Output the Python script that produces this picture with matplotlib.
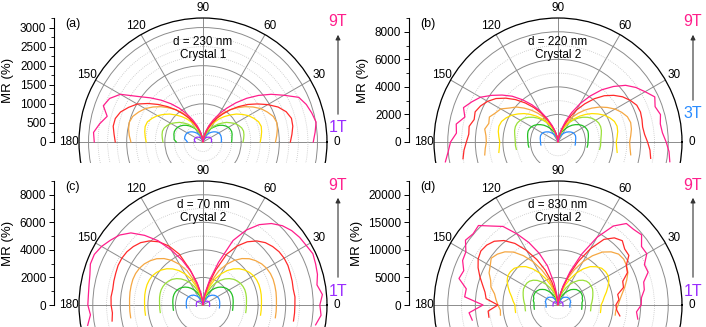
import numpy as np
import matplotlib
matplotlib.use('Agg')
import matplotlib.pyplot as plt
from matplotlib.patches import Rectangle, FancyArrowPatch
from matplotlib.ticker import MultipleLocator

plt.rcParams['font.family'] = ['Liberation Sans', 'DejaVu Sans']

# field colours, low -> high field
c_purple = '#9a2cff'
c_blue = '#2a8cff'
c_green = '#22c022'
c_lgreen = '#9be03a'
c_yellow = '#ffe000'
c_orange = '#f5a742'
c_red = '#ff2a2a'
c_mag = '#ff1e8c'

# angles (deg)
theta_a = np.arange(0, 181, 5)
theta_bcd = np.arange(-10, 191, 5)

# ---- (a) d = 230 nm, crystal 1 : MR (%) vs angle, 0..180
a_purple = [220, 222, 227, 231, 233, 231, 224, 213, 198, 180, 160, 139, 117, 95, 73, 51, 31, 13, 0,
            13, 31, 51, 73, 95, 117, 139, 160, 180, 198, 213, 224, 231, 233, 231, 227, 222, 200]
a_blue = [480, 485, 490, 495, 495, 490, 475, 450, 415, 375, 330, 285, 240, 195, 150, 105, 65, 25, 0,
          25, 65, 105, 150, 195, 240, 285, 330, 375, 415, 450, 475, 490, 495, 495, 490, 440, 410]
a_green = [750, 760, 770, 790, 800, 790, 770, 730, 680, 620, 550, 470, 400, 320, 250, 170, 105, 45, 0,
           45, 105, 170, 250, 320, 400, 470, 550, 620, 680, 730, 770, 790, 800, 790, 770, 760, 700]
a_lgreen = [1050, 1070, 1090, 1100, 1080, 1030, 970, 880, 800, 700, 610, 510, 420, 330, 240, 160, 85, 30, 0,
            30, 85, 160, 240, 330, 420, 510, 610, 700, 800, 880, 970, 1030, 1080, 1100, 1090, 1070, 1050]
a_yellow = [1500, 1530, 1560, 1580, 1550, 1470, 1380, 1260, 1140, 1000, 870, 740, 600, 470, 350, 230, 120, 45, 0,
            45, 120, 230, 350, 470, 600, 740, 870, 1000, 1140, 1260, 1380, 1470, 1550, 1570, 1550, 1520, 1490]
a_orange = [1900, 1940, 1980, 2000, 1960, 1860, 1750, 1600, 1440, 1270, 1100, 930, 760, 590, 440, 290, 150, 60, 0,
            60, 150, 290, 440, 590, 760, 930, 1100, 1270, 1440, 1600, 1750, 1860, 1960, 2000, 1980, 1940, 1890]
a_red = [2290, 2340, 2390, 2400, 2320, 2170, 1960, 1740, 1530, 1310, 1100, 890, 710, 530, 370, 230, 115, 45, 0,
         45, 115, 230, 370, 530, 710, 890, 1100, 1310, 1530, 1760, 1990, 2150, 2300, 2380, 2390, 2340, 2300]
a_mag = [2890, 2950, 3010, 2950, 2880, 2770, 2450, 2180, 1900, 1620, 1340, 1080, 850, 640, 450, 290, 150, 50, 0,
         50, 150, 290, 450, 640, 850, 1080, 1310, 1550, 1800, 2080, 2500, 2700, 2780, 2600, 2750, 2880, 2850]

# ---- (b) d = 220 nm, crystal 2 : -10..190
b_blue = [1260, 1270, 1270, 1280, 1310, 1330, 1350, 1330, 1300, 1230, 1140, 1040, 930, 800, 670, 550, 420, 290, 180, 80, 0,
          80, 180, 290, 420, 550, 670, 800, 930, 1040, 1140, 1230, 1300, 1330, 1350, 1330, 1310, 1280, 1270, 1270, 1260]
b_green = [2150, 2175, 2175, 2200, 2240, 2280, 2310, 2280, 2220, 2110, 1960, 1780, 1590, 1370, 1150, 940, 720, 500, 300, 130, 0,
           130, 300, 500, 720, 940, 1150, 1370, 1590, 1780, 1960, 2110, 2220, 2280, 2310, 2280, 2240, 2200, 2175, 2175, 2150]
b_lgreen = [3070, 3100, 3100, 3130, 3190, 3260, 3290, 3260, 3160, 3010, 2790, 2540, 2260, 1950, 1640, 1330, 1020, 710, 430, 190, 0,
            190, 430, 710, 1020, 1330, 1640, 1950, 2260, 2540, 2790, 3010, 3160, 3260, 3290, 3260, 3190, 3130, 3100, 3100, 3070]
b_yellow = [4360, 4270, 4230, 4310, 4400, 4440, 4360, 4150, 3890, 3550, 3210, 2830, 2450, 2070, 1690, 1310, 970, 630, 340, 130, 0,
            130, 340, 630, 970, 1310, 1690, 2070, 2450, 2830, 3210, 3550, 3890, 4150, 4360, 4440, 4400, 4310, 4230, 4270, 4360]
b_orange = [5360, 5250, 5200, 5300, 5410, 5460, 5360, 5100, 4780, 4370, 3950, 3480, 3020, 2550, 2080, 1610, 1200, 780, 420, 160, 0,
            160, 420, 780, 1200, 1610, 2080, 2550, 3020, 3480, 3950, 4300, 4800, 5000, 5300, 5200, 5400, 5250, 5200, 5300, 5400]
b_red = [6830, 6700, 6500, 6310, 6240, 6310, 6370, 6310, 6050, 5720, 5270, 4750, 4100, 3380, 2670, 1950, 1300, 780, 390, 130, 0,
         130, 380, 750, 1200, 1750, 2400, 3050, 3700, 4350, 4950, 5500, 5900, 6200, 6400, 6300, 6550, 6500, 6650, 6850, 7000]
b_mag = [8240, 8090, 7850, 7610, 7540, 7700, 7500, 7750, 7300, 6900, 6400, 5700, 4950, 4080, 3220, 2360, 1570, 940, 470, 160, 0,
         130, 400, 800, 1300, 1900, 2600, 3300, 4000, 4700, 5300, 5900, 6500, 6900, 7300, 7000, 7500, 7400, 7800, 8000, 8300]

# ---- (c) d = 70 nm, crystal 2
c_purple_mr = [480, 480, 480, 485, 490, 495, 495, 490, 475, 455, 430, 395, 355, 310, 260, 205, 150, 100, 55, 20, 0,
               20, 55, 100, 150, 205, 260, 310, 355, 395, 430, 455, 475, 490, 495, 495, 490, 485, 480, 480, 480]
c_blue_mr = [1210, 1210, 1210, 1220, 1230, 1240, 1240, 1230, 1200, 1150, 1090, 1010, 910, 800, 670, 540, 390, 250, 130, 50, 0,
             50, 130, 250, 390, 540, 670, 800, 910, 1010, 1090, 1150, 1200, 1230, 1240, 1240, 1230, 1220, 1210, 1210, 1210]
c_green_mr = [2180, 2180, 2180, 2200, 2220, 2240, 2240, 2220, 2170, 2090, 1980, 1840, 1670, 1470, 1240, 990, 720, 450, 230, 80, 0,
              80, 230, 450, 720, 990, 1240, 1470, 1670, 1840, 1980, 2090, 2170, 2220, 2240, 2240, 2220, 2200, 2180, 2180, 2180]
c_lgreen_mr = [3150, 3150, 3150, 3170, 3200, 3220, 3230, 3200, 3140, 3040, 2900, 2710, 2470, 2180, 1850, 1480, 1050, 650, 330, 120, 0,
               120, 330, 650, 1050, 1480, 1850, 2180, 2470, 2710, 2900, 3040, 3140, 3200, 3230, 3220, 3200, 3170, 3150, 3150, 3150]
c_yellow_mr = [4240, 4240, 4240, 4260, 4290, 4310, 4320, 4300, 4240, 4120, 3950, 3720, 3420, 3050, 2600, 2100, 1450, 850, 420, 150, 0,
               150, 420, 850, 1450, 2100, 2600, 3050, 3420, 3720, 3950, 4120, 4240, 4300, 4320, 4310, 4290, 4260, 4240, 4240, 4240]
c_orange_mr = [5330, 5330, 5330, 5350, 5380, 5400, 5420, 5400, 5330, 5200, 5000, 4750, 4400, 3950, 3400, 2750, 1900, 1100, 550, 200, 0,
               200, 550, 1100, 1900, 2750, 3400, 3950, 4400, 4750, 5000, 5200, 5330, 5400, 5420, 5400, 5380, 5350, 5330, 5330, 5330]
c_red_mr = [6670, 6670, 6670, 6700, 6650, 6700, 6740, 6800, 6800, 6740, 6600, 6400, 6070, 5600, 4940, 4070, 2700, 1550, 750, 270, 0,
            270, 750, 1550, 2700, 4070, 4940, 5600, 6070, 6400, 6600, 6740, 6800, 6800, 6740, 6700, 6650, 6700, 6670, 6600, 6700]
c_mag_mr = [8300, 8600, 8480, 8700, 8400, 8600, 8700, 8800, 8650, 8560, 8400, 8140, 7720, 7120, 6280, 5170, 3300, 1900, 900, 300, 0,
            300, 900, 1700, 2600, 3600, 4600, 5700, 6600, 7400, 7900, 8200, 8500, 8700, 8700, 8500, 8400, 8350, 8360, 8200, 8500]

# ---- (d) d = 830 nm, crystal 2
d_purple = [910, 910, 910, 910, 910, 910, 910, 910, 910, 910, 870, 820, 730, 640, 550, 440, 310, 180, 90, 40, 0,
            40, 90, 180, 310, 440, 550, 640, 730, 820, 870, 910, 910, 910, 910, 910, 910, 910, 910, 910, 910]
d_blue = [2180, 2180, 2180, 2180, 2270, 2360, 2360, 2360, 2360, 2270, 2180, 2000, 1820, 1640, 1360, 1090, 730, 450, 270, 90, 0,
          90, 270, 450, 730, 1090, 1360, 1640, 1820, 2000, 2180, 2270, 2360, 2360, 2360, 2360, 2270, 2180, 2180, 2180, 2180]
d_green = [4360, 4360, 4360, 4360, 4550, 4550, 4730, 4730, 4730, 4550, 4360, 4000, 3640, 3090, 2550, 2000, 1450, 910, 550, 180, 0,
           180, 550, 910, 1450, 2000, 2550, 3090, 3640, 4000, 4360, 4550, 4730, 4730, 4730, 4550, 4550, 4360, 4360, 4360, 4360]
d_lgreen = [6000, 6000, 6000, 6180, 6360, 6540, 6730, 6910, 6910, 6910, 6730, 6360, 5820, 5090, 4360, 3450, 2550, 1640, 730, 180, 0,
            180, 730, 1640, 2550, 3450, 4360, 5090, 5820, 6360, 6730, 6910, 6910, 6910, 6730, 6540, 6360, 6180, 6000, 6000, 6000]
d_yellow = [7820, 7820, 7820, 8180, 8540, 9090, 9640, 10180, 10540, 10540, 10360, 9820, 9090, 8000, 6730, 5270, 3820, 2360, 1090, 360, 0,
            360, 1090, 2360, 3820, 5270, 6730, 8000, 9090, 9820, 10360, 10540, 10540, 10180, 9640, 9090, 8540, 8180, 7820, 7820, 7820]
d_orange = [10540, 10540, 10910, 11270, 11820, 12540, 13270, 14000, 14360, 14540, 14360, 13640, 12540, 10910, 9090, 7090, 5090, 3090, 1450, 550, 0,
            550, 1450, 3090, 5090, 7090, 9090, 10910, 12540, 13640, 14360, 14800, 14200, 13800, 13000, 12600, 11700, 11300, 10900, 10500, 10600]
d_red = [11400, 10700, 10500, 11100, 11000, 12300, 12500, 13900, 14300, 15700, 15800, 16500, 15900, 14540, 11820, 8730, 5820, 3270, 1450, 550, 0,
         730, 2180, 4360, 6730, 9090, 11450, 13640, 15270, 16360, 16900, 17090, 16730, 16000, 15090, 14180, 13450, 13090, 10910, 12730, 12730]
d_mag = [14700, 14300, 15100, 15200, 15900, 16100, 17400, 17300, 18600, 18500, 19800, 19400, 19300, 17500, 14200, 10200, 6500, 3600, 1640, 550, 0,
         1450, 4000, 7300, 10000, 12500, 14900, 17400, 18700, 20400, 20100, 20500, 19300, 19100, 18200, 18600, 16900, 17000, 13600, 16200, 15800]

W, H = 706, 327
R = 124  # polar radius in px
fig = plt.figure(figsize=(W / 100, H / 100), dpi=100)


def fx(px):
    return px / W


def fy(py):
    return 1 - py / H


def panel(cx, cy, axis_x, theta, curves, cols, rmax, rmaj, rmin, amaj, amin,
          tag, dtext, crystal, low, lowcol, low_dy, z):
    pol = fig.add_axes([fx(cx - R), fy(cy + R), 2 * R / W, 2 * R / H], projection='polar', zorder=z)
    pol.set_facecolor('none')
    for mr, c in zip(curves, cols):
        pol.plot(np.deg2rad(theta), mr, color=c, lw=0.9)
    pol.set_rlim(0, rmax)
    pol.set_rticks(np.arange(rmaj, rmax, rmaj))
    pol.yaxis.set_minor_locator(MultipleLocator(rmin))
    pol.set_yticklabels([])
    pol.tick_params(axis='y', which='both', length=0)
    pol.set_thetagrids(range(0, 181, 30), [str(a) for a in range(0, 181, 30)], fontsize=8.5)
    pol.tick_params(axis='x', pad=-3.5)
    pol.grid(True, which='major', color='#8c8c8c', lw=0.7)
    pol.grid(True, which='minor', axis='y', color='#c4c4c4', lw=0.6, ls=(0, (1, 1.5)))
    pol.spines['polar'].set_linewidth(0.9)

    # MR scale on the left
    ax = fig.add_axes([fx(axis_x), fy(cy), 0.01, R / H], zorder=z)
    ax.patch.set_visible(False)
    for s in ['top', 'right', 'bottom']:
        ax.spines[s].set_visible(False)
    ax.spines['left'].set_linewidth(0.8)
    ax.set_xticks([])
    ax.set_ylim(0, rmax)
    ax.yaxis.set_major_locator(MultipleLocator(amaj))
    ax.yaxis.set_minor_locator(MultipleLocator(amin))
    ax.tick_params(axis='y', which='major', direction='out', length=3.5, width=0.7, labelsize=8.5, pad=2)
    ax.tick_params(axis='y', which='minor', direction='out', length=2, width=0.6)
    ax.set_ylabel('MR (%)', fontsize=9.5, labelpad=4)

    fig.text(fx(cx - 130), fy(cy - 118), tag, fontsize=9, ha='center', va='center', zorder=3)
    fig.text(fx(cx), fy(cy - 100), dtext, fontsize=8.5, ha='center', va='center', zorder=3)
    fig.text(fx(cx), fy(cy - 87), crystal, fontsize=8.5, ha='center', va='center', zorder=3)

    xa = cx + 135
    fig.text(fx(xa), fy(cy - 120), '9T', fontsize=11.5, color=c_mag, ha='center', va='center', zorder=3)
    fig.text(fx(xa), fy(cy - low_dy), low, fontsize=11.5, color=lowcol, ha='center', va='center', zorder=3)
    arr = FancyArrowPatch((fx(xa), fy(cy - low_dy - 11)), (fx(xa), fy(cy - 110)), transform=fig.transFigure,
                          arrowstyle='-|>', mutation_scale=7, lw=0.8, color='#333333', zorder=3)
    fig.add_artist(arr)


cols8 = [c_purple, c_blue, c_green, c_lgreen, c_yellow, c_orange, c_red, c_mag]
cols7 = [c_blue, c_green, c_lgreen, c_yellow, c_orange, c_red, c_mag]

panel(203, 142, 54, theta_a,
      [a_purple, a_blue, a_green, a_lgreen, a_yellow, a_orange, a_red, a_mag], cols8,
      3250, 1000, 250, 500, 250, '(a)', 'd = 230 nm', 'Crystal 1', '1T', c_purple, 14, 0)
panel(558, 142, 409, theta_bcd,
      [b_blue, b_green, b_lgreen, b_yellow, b_orange, b_red, b_mag], cols7,
      9000, 2000, 1000, 2000, 1000, '(b)', 'd = 220 nm', 'Crystal 2', '3T', c_blue, 28, 0)

# hide the lower part of the upper polar plots
fig.add_artist(Rectangle((0, 0), 1, fy(163), transform=fig.transFigure, fc='white', ec='none', zorder=1))

panel(203, 305, 54, theta_bcd,
      [c_purple_mr, c_blue_mr, c_green_mr, c_lgreen_mr, c_yellow_mr, c_orange_mr, c_red_mr, c_mag_mr], cols8,
      9000, 2000, 1000, 2000, 1000, '(c)', 'd = 70 nm', 'Crystal 2', '1T', c_purple, 14, 2)
panel(558, 305, 409, theta_bcd,
      [d_purple, d_blue, d_green, d_lgreen, d_yellow, d_orange, d_red, d_mag], cols8,
      22500, 5000, 2500, 5000, 2500, '(d)', 'd = 830 nm', 'Crystal 2', '1T', c_purple, 14, 2)

fig.savefig('out.png', dpi=100)
